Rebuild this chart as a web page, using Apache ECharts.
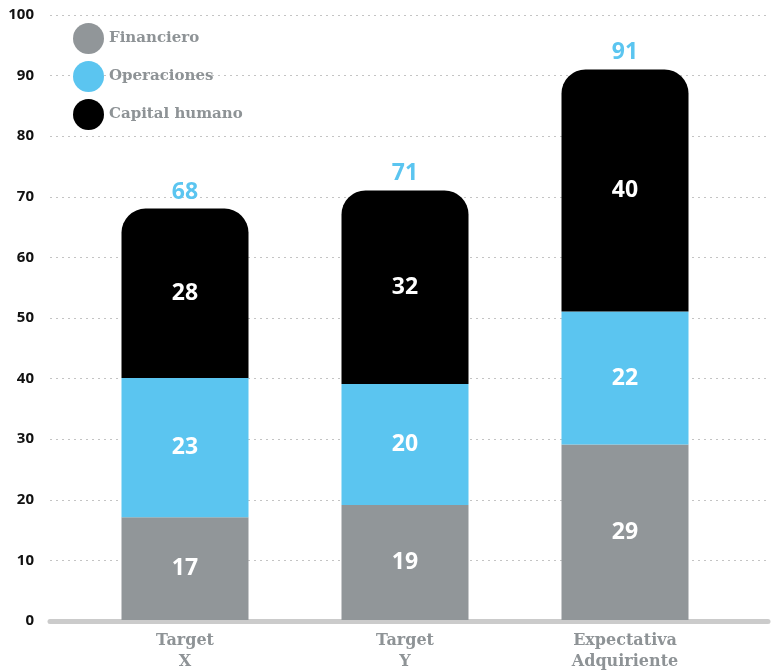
<!DOCTYPE html>
<html>
<head>
<meta charset="utf-8">
<script src="https://cdn.jsdelivr.net/npm/echarts@6/dist/echarts.min.js"></script>
<style>
  html, body { margin: 0; padding: 0; background: #fff; }
  #chart { width: 771px; height: 672px; }
</style>
</head>
<body>
<div id="chart"></div>
<script>
const categories = ["Target\nX", "Target\nY", "Expectativa\nAdquiriente"];
const financiero = [17, 19, 29];
const operaciones = [23, 20, 22];
const capitalHumano = [28, 32, 40];
const totals = [68, 71, 91];

const gray = "#919699";
const blue = "#5bc5f0";
const textGray = "#8e9396";

const chart = echarts.init(document.getElementById("chart"));

const innerLabel = {
  show: true,
  position: "inside",
  color: "#fff",
  fontFamily: "Noto Sans",
  fontWeight: "bold",
  fontSize: 23,
};

chart.setOption({
  animation: false,
  legend: {
    data: ["Financiero", "Operaciones", "Capital humano"],
    orient: "vertical",
    left: 68,
    top: 18,
    icon: "circle",
    itemWidth: 31,
    itemHeight: 31,
    itemGap: 7,
    textStyle: { color: textGray, fontFamily: "DejaVu Serif", fontWeight: "bold", fontSize: 15 },
  },
  grid: [
    { left: 75, right: 36, top: 15, bottom: 51 },
    { left: 50, right: 3, top: 15, bottom: 51 },
  ],
  xAxis: [
    {
      type: "category",
      gridIndex: 0,
      data: categories,
      axisLine: { show: false },
      axisTick: { show: false },
      axisLabel: {
        color: textGray,
        fontFamily: "DejaVu Serif",
        fontWeight: "bold",
        fontSize: 16,
        lineHeight: 21,
        margin: 10,
      },
    },
    {
      type: "value",
      gridIndex: 1,
      min: 0,
      max: 1,
      axisLine: { show: true, onZero: false, lineStyle: { color: "#cbcbcb", width: 5, cap: "round" } },
      axisTick: { show: false },
      axisLabel: { show: false },
      splitLine: { show: false },
    },
  ],
  yAxis: [
    {
      type: "value",
      gridIndex: 0,
      min: 0,
      max: 100,
      interval: 10,
      axisLine: { show: false },
      axisTick: { show: false },
      axisLabel: { show: false },
      splitLine: { show: false },
    },
    {
      type: "value",
      gridIndex: 1,
      min: 0,
      max: 100,
      interval: 10,
      axisLine: { show: false },
      axisTick: { show: false },
      axisLabel: {
        color: "#111",
        fontFamily: "Noto Sans",
        fontWeight: "bold",
        fontSize: 15,
        margin: 16,
      },
      splitLine: { lineStyle: { color: "#c4c4c4", type: [2, 4], width: 1 } },
    },
  ],
  series: [
    {
      name: "Financiero",
      type: "bar",
      stack: "total",
      barWidth: 127,
      itemStyle: { color: gray },
      label: innerLabel,
      data: financiero,
    },
    {
      name: "Operaciones",
      type: "bar",
      stack: "total",
      itemStyle: { color: blue },
      label: innerLabel,
      data: operaciones,
    },
    {
      name: "Capital humano",
      type: "bar",
      stack: "total",
      itemStyle: { color: "#000", borderRadius: [24, 24, 0, 0] },
      label: innerLabel,
      data: capitalHumano,
    },
    {
      name: "Total",
      type: "bar",
      stack: "total",
      itemStyle: { color: "transparent" },
      label: {
        show: true,
        position: "top",
        distance: 5,
        color: blue,
        fontFamily: "Noto Sans",
        fontWeight: "bold",
        fontSize: 23,
        formatter: (p) => totals[p.dataIndex],
      },
      data: totals.map(() => 0),
    },
  ],
});
</script>
</body>
</html>
